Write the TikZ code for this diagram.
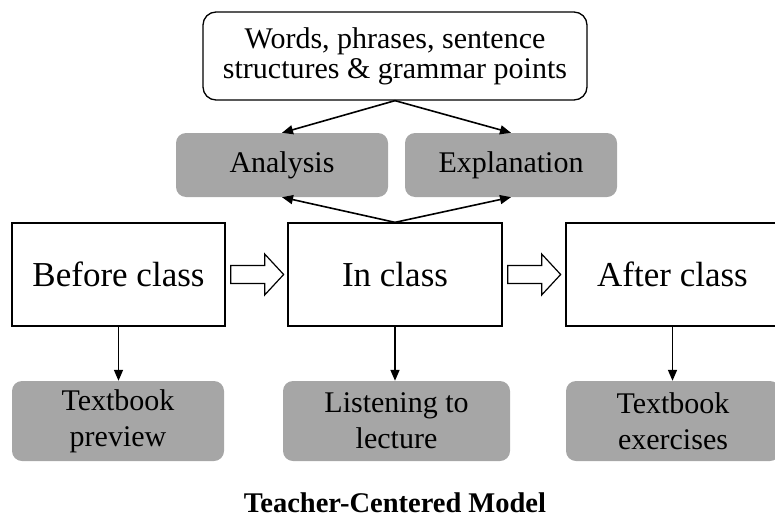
\documentclass[tikz,border=0pt]{standalone}
\usepackage{fontspec}
\setmainfont{Liberation Serif}
\usetikzlibrary{arrows.meta,calc}
\definecolor{greyBox}{RGB}{166,166,166}

\begin{document}
\begin{tikzpicture}[x=1pt, y=-1pt]
  \tikzstyle{topbox}=[draw, line width=1.3pt, rounded corners=13pt, minimum width=384pt,
                      minimum height=88pt, inner sep=0pt, align=center, font=\fontsize{30}{30}\selectfont]
  \tikzstyle{greybox}=[fill=greyBox, rounded corners=10pt, minimum width=212pt, minimum height=64pt,
                      inner sep=0pt, align=center, font=\fontsize{30}{36}\selectfont]
  \tikzstyle{stagebox}=[draw, line width=1.3pt, minimum width=213pt, minimum height=103pt,
                      inner sep=0pt, font=\fontsize{35}{42}\selectfont]
  \tikzstyle{dir_edge} = [draw, -{Triangle[length=11pt,width=9pt]}, line width=1.6pt]
  \tikzstyle{fat_arrow} = [draw, line width=1.2pt, fill=white, line join=miter]

  \useasboundingbox (0,0) rectangle (775,519);

  % constants
  \def \RowTask {165}
  \def \RowStage {274.5}
  \def \RowWork {421}

  % top of the tree
  \node[topbox] (points) at (395,56) {Words, phrases, sentence\\structures \& grammar points};
  \node[greybox] (analysis) at (282,\RowTask) {Analysis};
  \node[greybox] (explain) at (511,\RowTask) {Explanation};

  % the three stages
  \node[stagebox] (before) at (118.5,\RowStage) {Before class};
  \node[stagebox, minimum width=214pt] (inclass) at (395,\RowStage) {In class};
  \node[stagebox] (after) at (672.5,\RowStage) {After class};

  % what the students do
  \node[greybox, minimum height=80pt] (preview) at (118,\RowWork) {Textbook\\preview};
  \node[greybox, minimum height=80pt, minimum width=227pt] (lecture) at (396.5,\RowWork) {Listening to\\lecture};
  \node[greybox, minimum height=80pt, minimum width=214pt] (exercise) at (673,\RowWork) {Textbook\\exercises};

  \node[font=\fontsize{28.5}{34}\selectfont\bfseries] (title) at (395,503) {Teacher-Centered Model};

  % Connect nodes with edges
  \foreach \dest in {analysis, explain}
  {
    \path[dir_edge] (points.south) -- (\dest.north);
    \path[dir_edge] (inclass.north) -- (\dest.south);
  }

  \foreach \source/ \dest in
    {
      before/preview,
      inclass/lecture,
      after/exercise%
    }
    \path[dir_edge] (\source.south) -- (\source.south |- \dest.north);

  % hollow arrows between the stages
  \foreach \source/ \dest in {before/inclass, inclass/after}
    \path[fat_arrow] ($(\source.east)+(5,-9)$) -- ++(34,0) -- ++(0,-11.5) -- ++(19,20.5)
      -- ++(-19,20.5) -- ++(0,-11.5) -- ++(-34,0) -- cycle;

\end{tikzpicture}
\end{document}
